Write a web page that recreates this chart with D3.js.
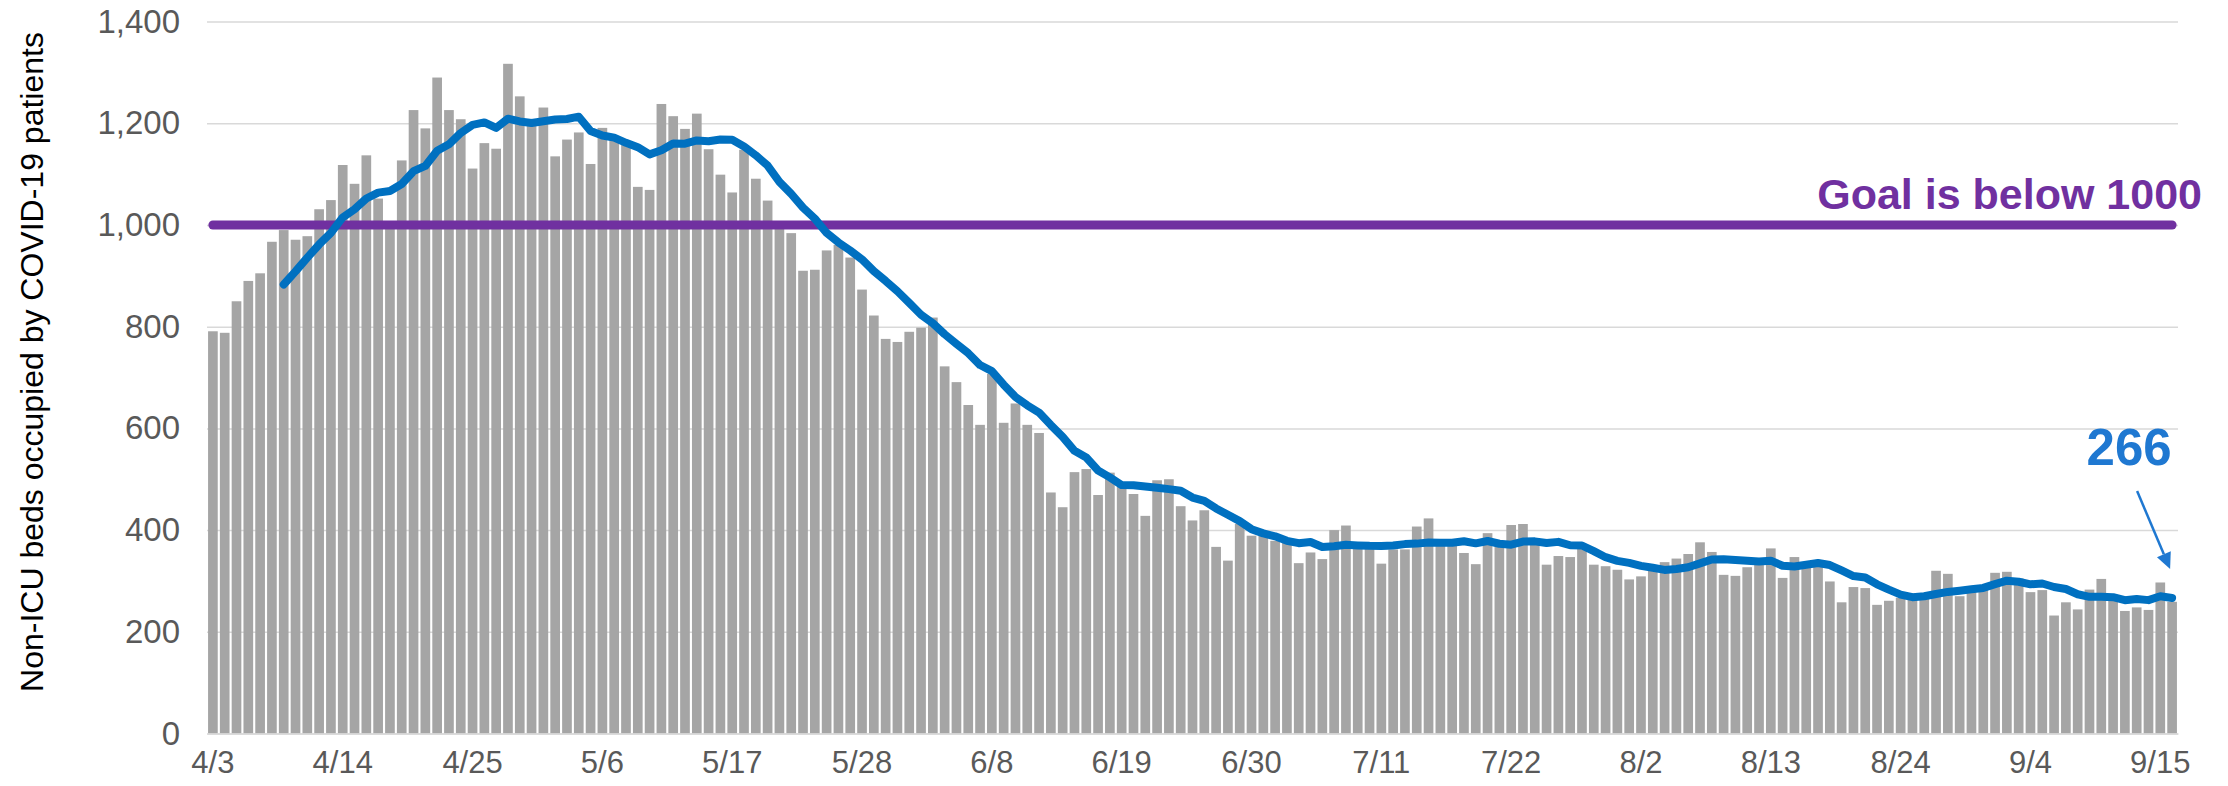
<!DOCTYPE html>
<html>
<head>
<meta charset="utf-8">
<script src="https://cdn.jsdelivr.net/npm/d3@7"></script>
<style>
  body { margin: 0; background: #fff; }
  text { font-family: "Liberation Sans", Arial, sans-serif; }
</style>
</head>
<body>
<svg id="chart" width="2228" height="786"></svg>
<script>
// daily non-ICU beds occupied by COVID-19 patients, 4/3 .. 9/16
const beds = [
  791, 788, 850, 890, 905, 967, 990, 971, 978, 1031, 1049, 1118, 1081, 1137, 1052, 1000,
  1127, 1226, 1190, 1290, 1226, 1208, 1111, 1161, 1150, 1317, 1253, 1205, 1231, 1135, 1168,
  1182, 1120, 1191, 1175, 1160, 1075, 1069, 1238, 1214, 1189, 1219, 1149, 1099, 1064, 1148,
  1091, 1048, 995, 984, 910, 912, 950, 961, 936, 873, 822, 776, 770, 790, 798, 818, 722,
  691, 646, 607, 707, 611, 649, 607, 591, 474, 445, 514, 520, 469, 513, 485, 471, 428, 498,
  500, 447, 419, 439, 367, 340, 412, 389, 389, 379, 376, 335, 356, 343, 400, 409, 370, 370,
  334, 362, 362, 407, 423, 369, 369, 355, 333, 394, 369, 410, 412, 372, 332, 349, 347, 366,
  332, 329, 322, 303, 309, 320, 337, 344, 353, 376, 357, 312, 310, 327, 333, 364, 306, 347,
  335, 335, 299, 258, 288, 286, 253, 261, 267, 264, 270, 320, 314, 270, 280, 286, 316, 318,
  305, 278, 282, 232, 258, 244, 283, 304, 273, 241, 248, 243, 297, 259
];
const yTicks = [0, 200, 400, 600, 800, 1000, 1200, 1400];
const xTickLabels = ["4/3", "4/14", "4/25", "5/6", "5/17", "5/28", "6/8", "6/19", "6/30",
  "7/11", "7/22", "8/2", "8/13", "8/24", "9/4", "9/15"];
const goal = 1000;
const goalLabel = "Goal is below 1000";
const latestLabel = "266";
const yTitle = "Non-ICU beds occupied by COVID-19 patients";

const W = 2228, H = 786;
const margin = {top: 21.6, right: 50, bottom: 52.5, left: 207};

const fmt = d3.timeFormat("%-m/%-d");
const days = d3.timeDay.range(new Date(2020, 3, 3), new Date(2020, 3, 3 + beds.length));
const categories = days.map(fmt);

// Excel style 7 period moving average trendline of the daily bars
const avg7 = beds.map((v, i) => i < 6 ? null : d3.mean(beds.slice(i - 6, i + 1)));

const svg = d3.select("#chart");

const x = d3.scaleBand()
  .domain(categories)
  .range([margin.left, W - margin.right])
  .paddingInner(0.18)
  .paddingOuter(0.09);

const y = d3.scaleLinear()
  .domain([0, 1400])
  .range([H - margin.bottom, margin.top]);

const cx = d => x(d) + x.bandwidth() / 2;

// gridlines
svg.append("g")
  .attr("transform", `translate(${margin.left},0)`)
  .call(d3.axisLeft(y).tickValues(yTicks).tickSize(-(W - margin.right - margin.left)).tickFormat(""))
  .call(g => g.select(".domain").remove())
  .call(g => g.selectAll("line").attr("stroke", "#d9d9d9").attr("stroke-width", 1.5));

// y tick labels
svg.append("g")
  .attr("transform", `translate(${margin.left},0)`)
  .call(d3.axisLeft(y).tickValues(yTicks).tickSize(0).tickPadding(27).tickFormat(d3.format(",")))
  .call(g => g.select(".domain").remove())
  .call(g => g.selectAll("text")
    .attr("fill", "#595959")
    .style("font-size", "33px")
    .style("font-family", "'Liberation Sans', Arial, sans-serif"));

// bars
svg.append("g")
  .selectAll("rect")
  .data(beds)
  .join("rect")
  .attr("x", (d, i) => x(categories[i]))
  .attr("y", d => y(d))
  .attr("width", x.bandwidth())
  .attr("height", d => y(0) - y(d))
  .attr("fill", "#a5a5a5");

// x axis
svg.append("g")
  .attr("transform", `translate(0,${y(0)})`)
  .call(d3.axisBottom(x).tickValues(xTickLabels).tickSize(0).tickPadding(17))
  .call(g => g.select(".domain").attr("stroke", "#d9d9d9").attr("stroke-width", 1.5))
  .call(g => g.selectAll("text")
    .attr("fill", "#595959")
    .style("font-size", "31px")
    .style("font-family", "'Liberation Sans', Arial, sans-serif"));

// goal line
svg.append("path")
  .datum(categories)
  .attr("fill", "none")
  .attr("stroke", "#7030a0")
  .attr("stroke-width", 9)
  .attr("stroke-linecap", "round")
  .attr("d", d3.line().x(d => cx(d)).y(() => y(goal)));

svg.append("text")
  .attr("x", W - margin.right + 24)
  .attr("y", y(goal) - 16)
  .attr("text-anchor", "end")
  .attr("fill", "#7030a0")
  .style("font-size", "43px")
  .style("font-weight", "bold")
  .text(goalLabel);

// moving average line
svg.append("path")
  .datum(avg7.map((v, i) => [categories[i], v]))
  .attr("fill", "none")
  .attr("stroke", "#0070c0")
  .attr("stroke-width", 8)
  .attr("stroke-linejoin", "round")
  .attr("stroke-linecap", "round")
  .attr("d", d3.line().defined(d => d[1] != null).x(d => cx(d[0])).y(d => y(d[1])));

// latest value callout
const lastCat = categories[categories.length - 1];
const px = cx(lastCat), py = y(avg7[avg7.length - 1]);
const tip = [px - 2, py - 29], start = [px - 35, py - 107];
const dx = tip[0] - start[0], dy = tip[1] - start[1];
const len = Math.hypot(dx, dy), ux = dx / len, uy = dy / len;
const base = [tip[0] - ux * 16, tip[1] - uy * 16];

svg.append("line")
  .attr("x1", start[0]).attr("y1", start[1])
  .attr("x2", base[0]).attr("y2", base[1])
  .attr("stroke", "#1f78d1")
  .attr("stroke-width", 2.5);

svg.append("path")
  .attr("d", d3.line()([
    tip,
    [base[0] - uy * 7.5, base[1] + ux * 7.5],
    [base[0] + uy * 7.5, base[1] - ux * 7.5]
  ]) + "Z")
  .attr("fill", "#1f78d1");

svg.append("text")
  .attr("x", px - 43)
  .attr("y", py - 133)
  .attr("text-anchor", "middle")
  .attr("fill", "#1f78d1")
  .style("font-size", "51px")
  .style("font-weight", "bold")
  .text(latestLabel);

// y axis title
svg.append("text")
  .attr("transform", `translate(43,362) rotate(-90)`)
  .attr("text-anchor", "middle")
  .attr("fill", "#000")
  .style("font-size", "32px")
  .text(yTitle);
</script>
</body>
</html>
